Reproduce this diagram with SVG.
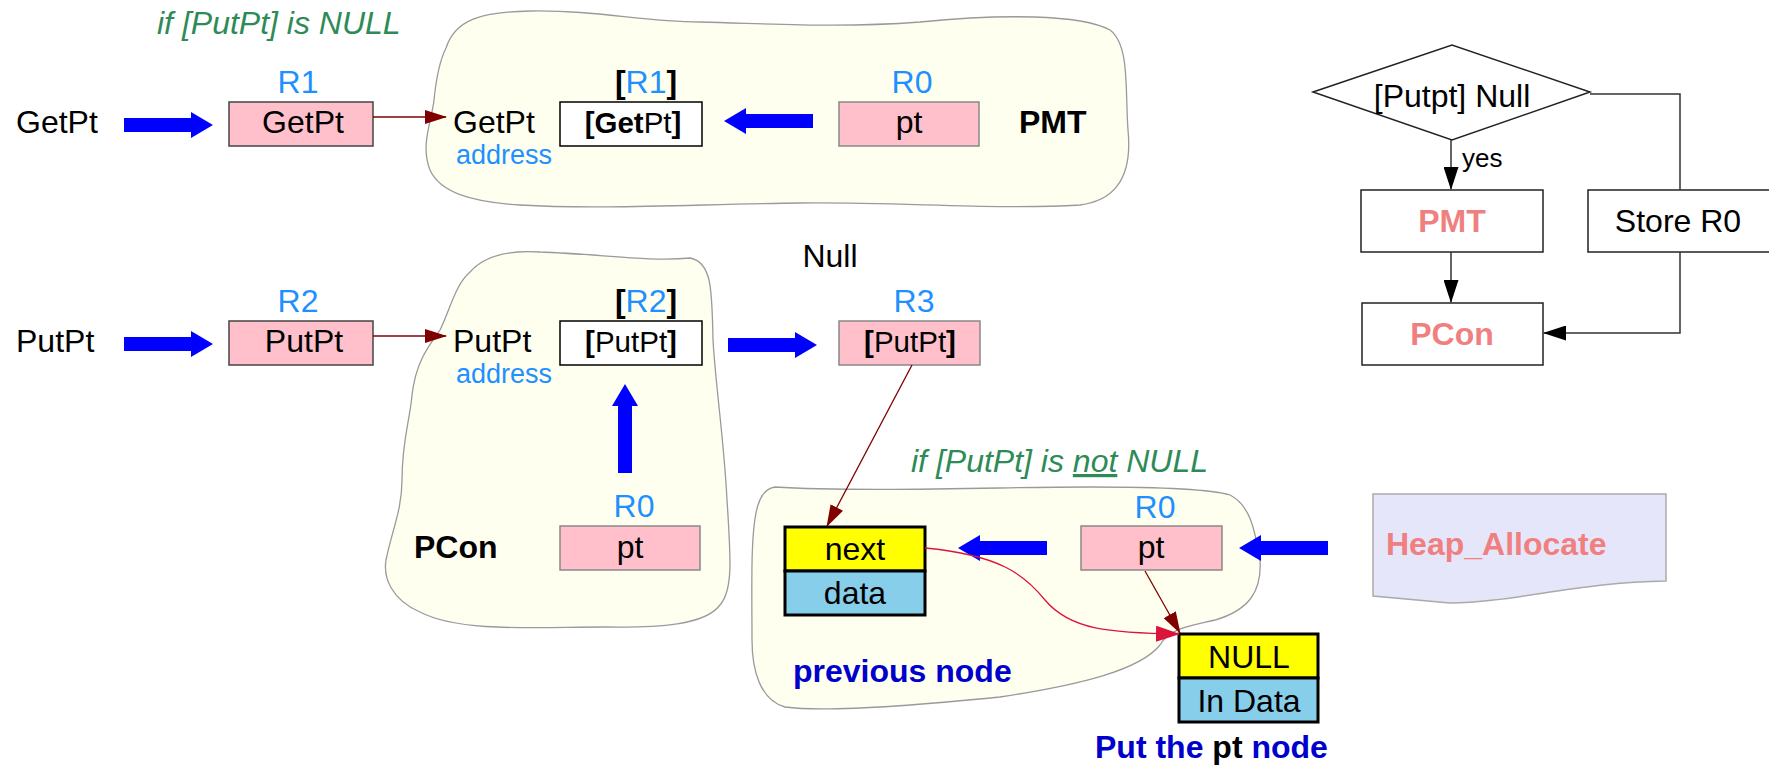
<svg xmlns="http://www.w3.org/2000/svg" width="1769" height="765" viewBox="0 0 1769 765">
<style>
text{font-family:"Liberation Sans",Arial,sans-serif;font-size:32px;fill:#000}
.c{text-anchor:middle}
.b{font-weight:bold}
.bt{font-size:29.5px}
.lbl{fill:#1E90FF}
.addr{fill:#1E90FF;font-size:27px}
.grn{fill:#2E8B57;font-style:italic}
.coral{fill:#F08080;font-weight:bold}
.mb{fill:#0000CD;font-weight:bold}
.blob{fill:#FFFFF0;stroke:#9a9a9a;stroke-width:1.3}
.reg{fill:#FFC0CB;stroke:#444;stroke-width:1.5}
.reg2{fill:#FFC0CB;stroke:#888;stroke-width:1.5}
.wbox{fill:#fff;stroke:#000;stroke-width:1.5}
.fbox{fill:#fff;stroke:#222;stroke-width:1.5}
.flow{fill:none;stroke:#333;stroke-width:1.5}
.dr{fill:none;stroke:#800000;stroke-width:1.3}
.cr{fill:none;stroke:#DC143C;stroke-width:1.3}
.yel{fill:#FFFF00;stroke:#000;stroke-width:3}
.sky{fill:#87CEEB;stroke:#000;stroke-width:3}
.ba{fill:#0000FF}
</style>
<defs>
<path id="barrow" d="M0,-7 H67 V-13 L89,0 L67,13 V7 H0 Z"/>
<marker id="mdr" markerWidth="22" markerHeight="14" refX="21" refY="7" orient="auto" markerUnits="userSpaceOnUse"><path d="M0,0 L22,7 L0,14 Z" fill="#800000"/></marker>
<marker id="mcr" markerWidth="24" markerHeight="16" refX="23" refY="8" orient="auto" markerUnits="userSpaceOnUse"><path d="M0,0 L24,8 L0,16 Z" fill="#DC143C"/></marker>
<marker id="mbk" markerWidth="23" markerHeight="15" refX="22" refY="7.5" orient="auto" markerUnits="userSpaceOnUse"><path d="M0,0 L23,7.5 L0,15 Z" fill="#000"/></marker>
</defs>
<rect width="1769" height="765" fill="#fff"/>

<!-- blobs -->
<g id="blob-pmt">
<path class="blob" d="M446,48 C455,20 480,12 530,11 C600,10 640,22 700,22 C780,24 840,28 920,22 C1000,14 1080,14 1110,30 C1130,45 1125,90 1128,130 C1132,170 1120,200 1080,205 C1000,210 900,202 800,203 C700,204 600,210 520,205 C470,202 440,192 430,170 C420,145 432,120 434,100 C436,80 440,60 446,48 Z"/>
<text x="1019" y="133" class="b">PMT</text>
</g>
<g id="blob-pcon">
<path class="blob" d="M470,272 C485,255 510,250 540,252 C600,254 650,262 690,258 C712,262 712,290 713,340 C716,390 724,440 727,500 C731,560 733,590 720,605 C705,625 660,628 603,627 C540,627 460,633 420,612 C392,600 383,578 386,560 C392,530 402,510 402,480 C402,440 410,420 412,395 C416,360 430,345 440,330 C450,310 455,285 470,272 Z"/>
<text x="414" y="558" class="b">PCon</text>
</g>
<g id="blob-prev">
<path class="blob" d="M775,487 C820,490 900,490 1000,488 C1100,486 1200,486 1230,495 C1250,505 1255,530 1260,560 C1262,590 1250,610 1215,620 C1190,626 1170,628 1160,645 C1140,670 1080,685 1000,697 C900,707 820,712 785,707 C760,700 752,670 752,640 C752,590 750,530 758,505 C762,492 768,488 775,487 Z"/>
<text x="793" y="682" class="mb">previous node</text>
</g>

<g id="cond-null"><text x="157" y="34" class="grn">if [PutPt] is NULL</text></g>
<g id="cond-notnull"><text x="911" y="472" class="grn">if [PutPt] is <tspan text-decoration="underline">not</tspan> NULL</text></g>

<!-- row 1 -->
<g id="getpt-in"><text x="16" y="133">GetPt</text></g>
<g id="r1">
<text x="298" y="93" class="c lbl">R1</text>
<rect class="reg" x="229" y="102" width="144" height="44"/>
<text x="303" y="133" class="c">GetPt</text>
</g>
<g id="getpt-addr">
<text x="453" y="133">GetPt</text>
<text x="456" y="164" class="addr">address</text>
</g>
<g id="mem-r1">
<text x="646" y="93" class="c"><tspan class="b">[</tspan><tspan class="lbl">R1</tspan><tspan class="b">]</tspan></text>
<rect class="wbox" x="560" y="102" width="142" height="44"/>
<text x="633" y="133" class="c bt"><tspan class="b">[Get</tspan>Pt<tspan class="b">]</tspan></text>
</g>
<g id="r0-top">
<text x="912" y="93" class="c lbl">R0</text>
<rect class="reg2" x="839" y="102" width="140" height="44"/>
<text x="909" y="133" class="c">pt</text>
</g>

<!-- row 2 -->
<g id="putpt-in"><text x="16" y="352">PutPt</text></g>
<g id="r2">
<text x="298" y="312" class="c lbl">R2</text>
<rect class="reg" x="229" y="321" width="144" height="44"/>
<text x="304" y="352" class="c">PutPt</text>
</g>
<g id="putpt-addr">
<text x="453" y="352">PutPt</text>
<text x="456" y="383" class="addr">address</text>
</g>
<g id="mem-r2">
<text x="646" y="312" class="c"><tspan class="b">[</tspan><tspan class="lbl">R2</tspan><tspan class="b">]</tspan></text>
<rect class="wbox" x="560" y="321" width="142" height="44"/>
<text x="631" y="352" class="c bt"><tspan class="b">[</tspan>PutPt<tspan class="b">]</tspan></text>
</g>
<g id="r0-pcon">
<text x="634" y="517" class="c lbl">R0</text>
<rect class="reg2" x="560" y="526" width="140" height="44"/>
<text x="630" y="558" class="c">pt</text>
</g>
<g id="null-lbl"><text x="830" y="267" class="c">Null</text></g>
<g id="r3">
<text x="914" y="312" class="c lbl">R3</text>
<rect class="reg2" x="839" y="321" width="141" height="44"/>
<text x="910" y="352" class="c bt"><tspan class="b">[</tspan>PutPt<tspan class="b">]</tspan></text>
</g>

<!-- row 3 -->
<g id="prev-node">
<rect class="yel" x="785" y="527" width="140" height="44"/>
<rect class="sky" x="785" y="571" width="140" height="44"/>
<text x="855" y="560" class="c">next</text>
<text x="855" y="604" class="c">data</text>
</g>
<g id="r0-new">
<text x="1155" y="518" class="c lbl">R0</text>
<rect class="reg2" x="1081" y="526" width="141" height="44"/>
<text x="1151" y="558" class="c">pt</text>
</g>
<g id="new-node">
<rect class="yel" x="1179" y="634" width="139" height="44"/>
<rect class="sky" x="1179" y="678" width="139" height="44"/>
<text x="1249" y="668" class="c">NULL</text>
<text x="1249" y="712" class="c">In Data</text>
<text x="1095" y="758" class="mb">Put the <tspan fill="#000">pt</tspan> node</text>
</g>
<g id="heap">
<path d="M1373,494 H1666 V581 C1580,582 1510,603 1450,603 L1373,596 Z" fill="#E6E6FA" stroke="#aaa" stroke-width="1.5"/>
<text x="1386" y="555" class="coral" style="font-size:32px">Heap_Allocate</text>
</g>

<!-- flowchart -->
<g id="fc-cond">
<polygon points="1313,92 1452,45 1590,92 1452,140" fill="#fff" stroke="#222" stroke-width="1.5"/>
<text x="1452" y="107" class="c">[Putpt] Null</text>
</g>
<g id="fc-pmt">
<rect class="fbox" x="1361" y="190" width="182" height="62"/>
<text x="1452" y="232" class="c coral">PMT</text>
</g>
<g id="fc-store">
<rect class="fbox" x="1588" y="190" width="182" height="62"/>
<text x="1678" y="232" class="c">Store R0</text>
</g>
<g id="fc-pcon">
<rect class="fbox" x="1362" y="303" width="181" height="62"/>
<text x="1452" y="345" class="c coral">PCon</text>
</g>

<!-- connectors -->
<g id="connectors">
<use href="#barrow" class="ba" transform="translate(124,125)"/>
<use href="#barrow" class="ba" transform="translate(124,344)"/>
<use href="#barrow" class="ba" transform="translate(813,121) scale(-1,1)"/>
<use href="#barrow" class="ba" transform="translate(728,345)"/>
<use href="#barrow" class="ba" transform="translate(625,473) rotate(-90)"/>
<use href="#barrow" class="ba" transform="translate(1047,548) scale(-1,1)"/>
<use href="#barrow" class="ba" transform="translate(1328,548) scale(-1,1)"/>
<path class="dr" d="M373,117 H446" marker-end="url(#mdr)"/>
<path class="dr" d="M373,336 H446" marker-end="url(#mdr)"/>
<path class="dr" d="M912,365 L827,526" marker-end="url(#mdr)"/>
<path class="dr" d="M1145,571 L1180,633" marker-end="url(#mdr)"/>
<path class="cr" d="M925,548 C1000,555 1025,575 1045,600 C1070,630 1110,633 1179,634" marker-end="url(#mcr)"/>
<path class="flow" d="M1451,140 V189" marker-end="url(#mbk)"/>
<text x="1462" y="167" style="font-size:26px">yes</text>
<path class="flow" d="M1451,252 V302" marker-end="url(#mbk)"/>
<path class="flow" d="M1590,94 H1680 V190"/>
<path class="flow" d="M1680,252 V333 H1544" marker-end="url(#mbk)"/>
</g>
</svg>
